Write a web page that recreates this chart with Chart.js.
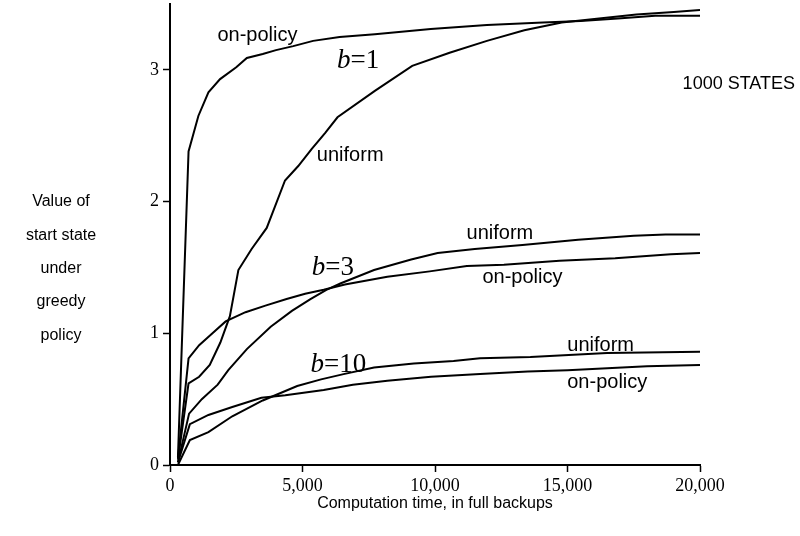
<!DOCTYPE html>
<html>
<head>
<meta charset="utf-8">
<script src="https://cdn.jsdelivr.net/npm/chart.js@4.4.0/dist/chart.umd.min.js"></script>
<style>
html, body { margin: 0; padding: 0; background: #fff; }
</style>
</head>
<body>
<canvas id="myChart" width="800" height="536"></canvas>
<script>
// computation time (full backups) and value of start state
var b1OnX = [300, 700, 1070, 1450, 1890, 2500, 2900, 3500, 4000, 4650, 5400, 6400, 7730, 9840, 11960, 14075, 15490, 16900, 18310, 20000];
var b1On = [0.06, 2.38, 2.65, 2.83, 2.93, 3.02, 3.09, 3.12, 3.15, 3.18, 3.22, 3.25, 3.27, 3.31, 3.34, 3.36, 3.37, 3.39, 3.41, 3.41];

var b1UniX = [300, 700, 1100, 1500, 1900, 2260, 2580, 3080, 3650, 4340, 4840, 5350, 5850, 6320, 7730, 9140, 10550, 11960, 13370, 14780, 16190, 17600, 19010, 20000];
var b1Uni = [0.04, 0.62, 0.67, 0.76, 0.93, 1.13, 1.48, 1.64, 1.80, 2.16, 2.27, 2.40, 2.52, 2.64, 2.84, 3.03, 3.13, 3.22, 3.30, 3.36, 3.39, 3.42, 3.44, 3.455];

var b3OnX = [300, 700, 1100, 1550, 2100, 2850, 3600, 4400, 5100, 5800, 6600, 8200, 9800, 11200, 12600, 14700, 16800, 18900, 20000];
var b3On = [0.05, 0.81, 0.91, 0.99, 1.09, 1.16, 1.21, 1.26, 1.30, 1.33, 1.37, 1.43, 1.47, 1.51, 1.52, 1.55, 1.57, 1.60, 1.61];

var b3UniX = [300, 720, 1200, 1800, 2200, 2900, 3800, 4600, 5300, 5900, 6450, 7700, 9100, 10100, 11500, 13300, 15400, 17500, 18700, 20000];
var b3Uni = [0.02, 0.39, 0.50, 0.61, 0.72, 0.88, 1.05, 1.17, 1.26, 1.33, 1.38, 1.48, 1.56, 1.61, 1.64, 1.67, 1.71, 1.74, 1.75, 1.75];

var b10OnX = [300, 750, 1450, 2350, 3450, 4350, 5800, 6900, 8200, 9850, 11700, 13500, 15000, 18000, 20000];
var b10On = [0.02, 0.31, 0.38, 0.44, 0.51, 0.53, 0.57, 0.61, 0.64, 0.67, 0.69, 0.71, 0.72, 0.75, 0.76];

var b10UniX = [300, 750, 1450, 2350, 3500, 4800, 5700, 6550, 7700, 9200, 10700, 11700, 13600, 16500, 20000];
var b10Uni = [0.0, 0.19, 0.25, 0.37, 0.49, 0.60, 0.65, 0.69, 0.74, 0.77, 0.79, 0.81, 0.82, 0.85, 0.86];

var xTicks = [0, 5000, 10000, 15000, 20000];
var yTicks = [0, 1, 2, 3];

var yTitle = ['Value of', 'start state', 'under', 'greedy', 'policy'];
var xTitle = 'Computation time, in full backups';
var cornerNote = '1000 STATES';

// curve labels, in data units
var curveLabels = [
	{ text: 'on-policy', x: 3300, y: 3.26 },
	{ text: 'uniform', x: 6800, y: 2.35 },
	{ text: 'uniform', x: 12450, y: 1.76 },
	{ text: 'on-policy', x: 13300, y: 1.42 },
	{ text: 'uniform', x: 16250, y: 0.91 },
	{ text: 'on-policy', x: 16500, y: 0.63 }
];
var bLabels = [
	{ text: '1', x: 7100, y: 3.07 },
	{ text: '3', x: 6150, y: 1.50 },
	{ text: '10', x: 6350, y: 0.76 }
];

function pts(xs, ys) {
	return xs.map(function(x, i) { return { x: x, y: ys[i] }; });
}

function line(xs, ys) {
	return {
		data: pts(xs, ys),
		borderColor: '#000',
		borderWidth: 2,
		pointRadius: 0,
		tension: 0,
		fill: false
	};
}

var sans = '"Liberation Sans", Arial, sans-serif';
var serif = '"Liberation Serif", "Times New Roman", serif';

var textPlugin = {
	id: 'textPlugin',
	afterDraw: function(chart) {
		var c = chart.ctx;
		var sx = chart.scales.x, sy = chart.scales.y;
		c.save();
		c.fillStyle = '#000';
		c.textBaseline = 'middle';
		c.textAlign = 'center';

		c.font = '16px ' + sans;
		for (var i = 0; i < yTitle.length; i++) {
			c.fillText(yTitle[i], 61, 202 + i * 33.3);
		}
		c.fillText(xTitle, (chart.chartArea.left + chart.chartArea.right) / 2, 504);
		c.textAlign = 'right';
		c.font = '18px ' + sans;
		c.fillText(cornerNote, 795, 84);

		c.textAlign = 'center';
		c.font = '20px ' + sans;
		curveLabels.forEach(function(l) {
			c.fillText(l.text, sx.getPixelForValue(l.x), sy.getPixelForValue(l.y));
		});

		c.textAlign = 'left';
		bLabels.forEach(function(l) {
			c.font = 'italic 27px ' + serif;
			var w1 = c.measureText('b').width;
			c.font = '27px ' + serif;
			var w2 = c.measureText('=' + l.text).width;
			var x0 = sx.getPixelForValue(l.x) - (w1 + w2) / 2;
			var y0 = sy.getPixelForValue(l.y);
			c.font = 'italic 27px ' + serif;
			c.fillText('b', x0, y0);
			c.font = '27px ' + serif;
			c.fillText('=' + l.text, x0 + w1, y0);
		});
		c.restore();
	}
};

var ctx = document.getElementById('myChart');
var myChart = new Chart(ctx, {
	type: 'line',
	data: {
		datasets: [
			line(b1OnX, b1On),
			line(b1UniX, b1Uni),
			line(b3OnX, b3On),
			line(b3UniX, b3Uni),
			line(b10OnX, b10On),
			line(b10UniX, b10Uni)
		]
	},
	options: {
		responsive: false,
		animation: false,
		devicePixelRatio: 1,
		layout: { padding: { left: 130, right: 100, top: 4, bottom: 0 } },
		plugins: {
			legend: { display: false },
			tooltip: { enabled: false }
		},
		scales: {
			x: {
				type: 'linear',
				min: 0,
				max: 20000,
				afterFit: function(s) { s.height = 71; s.paddingLeft = 0; s.paddingRight = 0; },
				afterBuildTicks: function(s) { s.ticks = xTicks.map(function(v) { return { value: v }; }); },
				grid: { drawOnChartArea: false, tickLength: 7, tickWidth: 1.5, tickColor: '#000' },
				border: { color: '#000', width: 2 },
				ticks: {
					color: '#000',
					padding: 3,
					maxRotation: 0,
					font: { family: serif, size: 18 },
					callback: function(v) { return v.toLocaleString('en-US'); }
				}
			},
			y: {
				type: 'linear',
				min: 0,
				max: 3.5,
				afterFit: function(s) { s.width = 40; s.paddingTop = 0; s.paddingBottom = 0; },
				afterBuildTicks: function(s) { s.ticks = yTicks.map(function(v) { return { value: v }; }); },
				grid: { drawOnChartArea: false, tickLength: 7, tickWidth: 1.5, tickColor: '#000' },
				border: { color: '#000', width: 2 },
				ticks: {
					color: '#000',
					padding: 4,
					font: { family: serif, size: 18 }
				}
			}
		}
	},
	plugins: [textPlugin]
});
</script>
</body>
</html>
